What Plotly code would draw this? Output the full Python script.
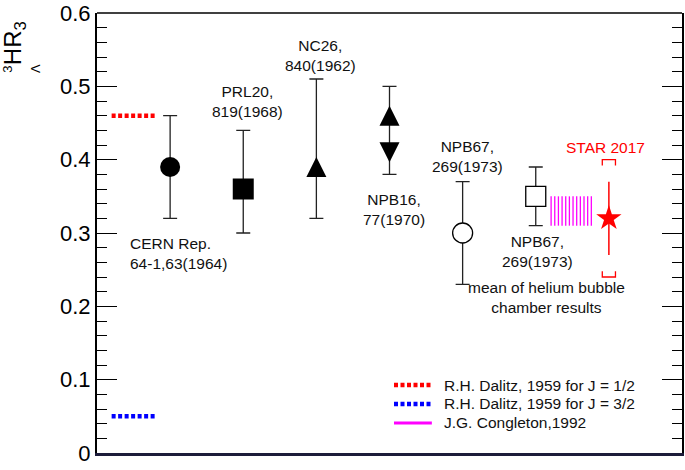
import plotly.graph_objects as go

# ---------------- data ----------------
# measurements: x slot, central value, upper and lower ends of the error bar
cern_x, cern_y, cern_hi, cern_lo = 1, 0.39, 0.46, 0.32
prl_x, prl_y, prl_hi, prl_lo = 2, 0.36, 0.44, 0.30
nc_x, nc_y, nc_hi, nc_lo = 3, 0.39, 0.51, 0.32
npb16_x, npb16_up, npb16_down, npb16_hi, npb16_lo = 4, 0.46, 0.41, 0.50, 0.38
npb67a_x, npb67a_y, npb67a_hi, npb67a_lo = 5, 0.30, 0.37, 0.23
npb67b_x, npb67b_y, npb67b_hi, npb67b_lo = 6, 0.35, 0.39, 0.31
star_x, star_y, star_hi, star_lo = 7, 0.32, 0.37, 0.27
star_sys_hi, star_sys_lo = 0.40, 0.24

# Congleton 1992 band
cong_x = [6.21, 6.76]
cong_range = [0.31, 0.35]

# Dalitz 1959 predictions
dalitz_x = [0.2, 0.8]
dalitz_half = 0.46
dalitz_3half = 0.05

# axis
y_ticks = [0, 0.1, 0.2, 0.3, 0.4, 0.5, 0.6]
y_tick_text = ["0", "0.1", "0.2", "0.3", "0.4", "0.5", "0.6"]

# labels
label_cern = "CERN Rep.<br>64-1,63(1964)"
label_prl = "PRL20,<br>819(1968)"
label_nc = "NC26,<br>840(1962)"
label_npb16 = "NPB16,<br>77(1970)"
label_npb67 = "NPB67,<br>269(1973)"
label_mean = "mean of helium bubble<br>chamber results"
label_star = "STAR 2017"
legend_names = ["R.H. Dalitz, 1959 for J = 1/2", "R.H. Dalitz, 1959 for J = 3/2",
                "J.G. Congleton,1992"]
legend_colors = ["#ff0000", "#0000ff", "#ff00ff"]
legend_dash = ["4px,2.5px", "4px,2.5px", "solid"]

# ---------------- figure ----------------
FONT = "Arial, 'Liberation Sans', Helvetica, sans-serif"
ECOL = "#222222"
DOT = "4px,2.5px"
fig = go.Figure()


def err(y, hi, lo, color=ECOL, width=7, thick=1.3):
    return dict(type="data", symmetric=False, array=[hi - y], arrayminus=[y - lo],
                width=width, thickness=thick, color=color)


# Congleton band, drawn as vertical hatch lines across its x span
n_hatch = 12
hx, hy = [], []
for i in range(n_hatch):
    xv = cong_x[0] + (cong_x[1] - cong_x[0]) * i / (n_hatch - 1)
    hx += [xv, xv, None]
    hy += [cong_range[0], cong_range[1], None]
fig.add_trace(go.Scatter(x=hx, y=hy, mode="lines", line=dict(color="#ff00ff", width=1.3),
                         showlegend=False, hoverinfo="skip", name=legend_names[2]))

# Dalitz lines
fig.add_trace(go.Scatter(x=dalitz_x, y=[dalitz_half] * 2, mode="lines",
                         line=dict(color="#ff0000", width=4.5, dash=DOT),
                         name=legend_names[0], showlegend=False))
fig.add_trace(go.Scatter(x=dalitz_x, y=[dalitz_3half] * 2, mode="lines",
                         line=dict(color="#0000ff", width=4.5, dash=DOT),
                         name=legend_names[1], showlegend=False))

# CERN filled circle
fig.add_trace(go.Scatter(x=[cern_x], y=[cern_y], mode="markers",
                         marker=dict(symbol="circle", size=20, color="black"),
                         error_y=err(cern_y, cern_hi, cern_lo), showlegend=False))
# PRL filled square
fig.add_trace(go.Scatter(x=[prl_x], y=[prl_y], mode="markers",
                         marker=dict(symbol="square", size=21, color="black"),
                         error_y=err(prl_y, prl_hi, prl_lo), showlegend=False))
# NC26 triangle up
fig.add_trace(go.Scatter(x=[nc_x], y=[nc_y], mode="markers",
                         marker=dict(symbol="arrow-down", size=20, color="black",
                                     angle=180, standoff=10),
                         error_y=err(nc_y, nc_hi, nc_lo), showlegend=False))
# NPB16 error range
npb16_mid = (npb16_hi + npb16_lo) / 2
fig.add_trace(go.Scatter(x=[npb16_x], y=[npb16_mid], mode="markers",
                         marker=dict(size=1, color="rgba(0,0,0,0)"),
                         error_y=err(npb16_mid, npb16_hi, npb16_lo), showlegend=False,
                         hoverinfo="skip"))
fig.add_trace(go.Scatter(x=[npb16_x], y=[npb16_up], mode="markers",
                         marker=dict(symbol="arrow-down", size=20, color="black",
                                     angle=180, standoff=10), showlegend=False))
fig.add_trace(go.Scatter(x=[npb16_x], y=[npb16_down], mode="markers",
                         marker=dict(symbol="arrow-down", size=20, color="black",
                                     angle=0, standoff=10), showlegend=False))
# NPB67 open circle
fig.add_trace(go.Scatter(x=[npb67a_x], y=[npb67a_y], mode="markers",
                         marker=dict(symbol="circle", size=20, color="white",
                                     line=dict(color="black", width=1.3)),
                         error_y=err(npb67a_y, npb67a_hi, npb67a_lo), showlegend=False))
# NPB67 open square
fig.add_trace(go.Scatter(x=[npb67b_x], y=[npb67b_y], mode="markers",
                         marker=dict(symbol="square", size=20, color="white",
                                     line=dict(color="black", width=1.3)),
                         error_y=err(npb67b_y, npb67b_hi, npb67b_lo), showlegend=False))
# STAR systematic brackets
bw, tk = 0.09, 0.008
fig.add_trace(go.Scatter(
    x=[star_x - bw, star_x - bw, star_x + bw, star_x + bw, None,
       star_x - bw, star_x - bw, star_x + bw, star_x + bw],
    y=[star_sys_hi - tk, star_sys_hi, star_sys_hi, star_sys_hi - tk, None,
       star_sys_lo + tk, star_sys_lo, star_sys_lo, star_sys_lo + tk],
    mode="lines", line=dict(color="#ff0000", width=1.3), showlegend=False, hoverinfo="skip"))
# STAR star
fig.add_trace(go.Scatter(x=[star_x], y=[star_y], mode="markers",
                         marker=dict(symbol="star", size=19, color="#ff0000"),
                         error_y=err(star_y, star_hi, star_lo, color="#ff0000", width=0, thick=1.5),
                         showlegend=False))

# ---------------- annotations ----------------
TF = dict(family=FONT, size=15.5, color="#111111")
anns = [
    dict(x=0.4245, y=0.2727, text=label_cern, xanchor="left", align="left"),
    dict(x=2.06, y=0.4787, text=label_prl, xanchor="center", align="center"),
    dict(x=3.05, y=0.5414, text=label_nc, xanchor="center", align="center"),
    dict(x=4.06, y=0.3327, text=label_npb16, xanchor="center", align="center"),
    dict(x=5.06, y=0.404, text=label_npb67, xanchor="center", align="center"),
    dict(x=6.02, y=0.2741, text=label_npb67, xanchor="center", align="center"),
    dict(x=6.15, y=0.2121, text=label_mean, xanchor="center", align="center"),
]
for a in anns:
    fig.add_annotation(xref="x", yref="y", yanchor="middle", showarrow=False, font=TF, **a)
fig.add_annotation(xref="x", yref="y", x=6.955, y=0.416, text=label_star, showarrow=False,
                   font=dict(family=FONT, size=15.5, color="#ff0000"))

# y-axis title (hypertriton notation)
fig.add_annotation(xref="paper", yref="paper", x=-0.1397, y=0.932, text="HR<sub>3</sub>",
                   textangle=-90, showarrow=False, xanchor="center", yanchor="middle",
                   font=dict(family=FONT, size=24, color="black"))
fig.add_annotation(xref="paper", yref="paper", x=-0.1525, y=0.873, text="3",
                   textangle=-90, showarrow=False, xanchor="center", yanchor="middle",
                   font=dict(family=FONT, size=13, color="black"))
fig.add_annotation(xref="paper", yref="paper", x=-0.1039, y=0.873, text="Λ",
                   textangle=-90, showarrow=False, xanchor="center", yanchor="middle",
                   font=dict(family=FONT, size=13, color="black"))

# legend (drawn as layout shapes + text)
leg_y = [0.1545, 0.1114, 0.0682]
for name, col, dsh, ly in zip(legend_names, legend_colors, legend_dash, leg_y):
    fig.add_shape(type="line", xref="paper", yref="paper", x0=0.5077, x1=0.5724, y0=ly, y1=ly,
                  line=dict(color=col, width=4.5 if dsh != "solid" else 3, dash=dsh))
    fig.add_annotation(xref="paper", yref="paper", x=0.590, y=ly, text=name, showarrow=False,
                       xanchor="left", yanchor="middle", font=TF)

# top frame line
fig.add_shape(type="line", xref="paper", yref="paper", x0=0, x1=1, y0=1, y1=1,
              line=dict(color="black", width=1.3))

fig.update_layout(
    width=685, height=470,
    margin=dict(l=97, r=1, t=13, b=17),
    paper_bgcolor="white", plot_bgcolor="white",
    showlegend=False,
    xaxis=dict(range=[0, 8], showticklabels=False, ticks="", showgrid=False, zeroline=False,
               showline=True, linecolor="#1c1c3a", linewidth=2.5, mirror=False, fixedrange=True),
    yaxis=dict(range=[0, 0.6], tickvals=y_ticks, ticktext=y_tick_text, ticks="inside",
               ticklen=20, tickwidth=1.3, tickcolor="black", showgrid=False, zeroline=False,
               showline=True, linecolor="black", linewidth=2, mirror="allticks",
               tickfont=dict(family=FONT, size=22, color="black"),
               minor=dict(dtick=0.02, ticks="inside", ticklen=10, tickwidth=1.3,
                          tickcolor="black", showgrid=False)),
)

fig.write_html("out.html", config={"displayModeBar": False},
               post_script="document.body.style.margin='0';")
